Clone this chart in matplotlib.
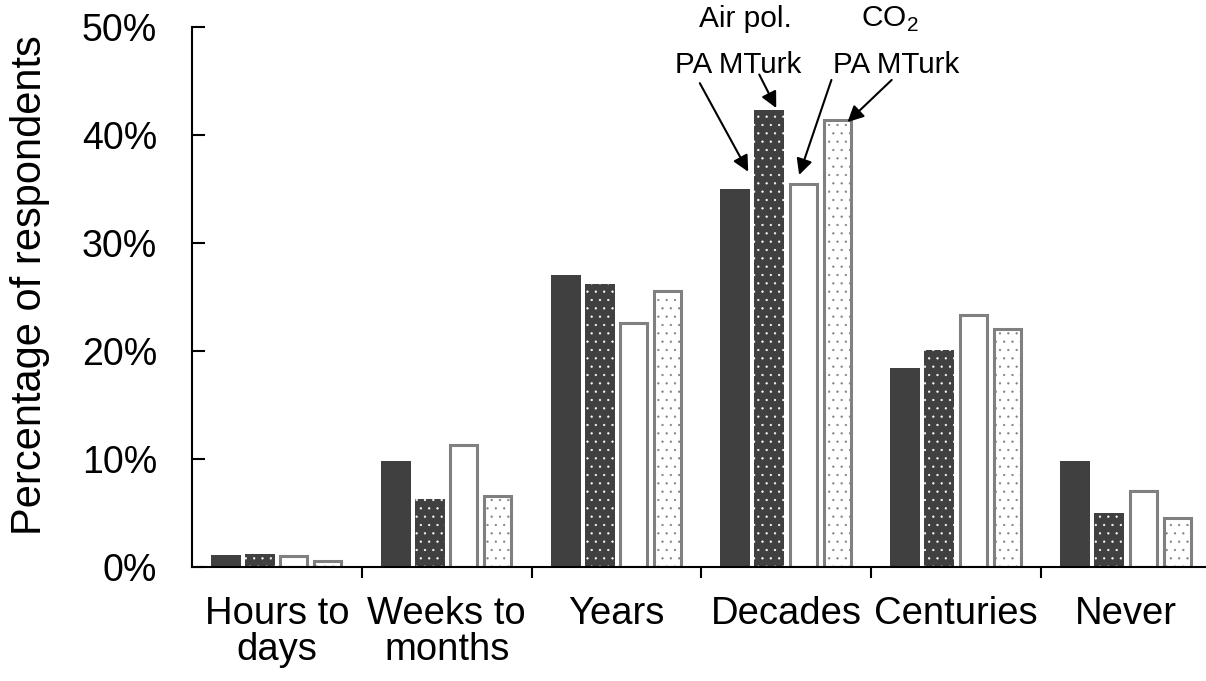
import numpy as np
import matplotlib
matplotlib.use("Agg")
import matplotlib.pyplot as plt

plt.rcParams['font.family'] = ['Liberation Sans', 'DejaVu Sans']
plt.rcParams['mathtext.fontset'] = 'custom'
plt.rcParams['mathtext.rm'] = 'Liberation Sans'
plt.rcParams['hatch.linewidth'] = 0.4

categories = ["Hours to\ndays", "Weeks to\nmonths", "Years", "Decades", "Centuries", "Never"]
airpol_pa = [1.1, 9.8, 27.0, 35.0, 18.4, 9.8]
airpol_mturk = [1.2, 6.3, 26.2, 42.3, 20.1, 5.0]
co2_pa = [1.0, 11.3, 22.6, 35.5, 23.3, 7.0]
co2_mturk = [0.6, 6.6, 25.6, 41.4, 22.0, 4.5]
yticks = [0, 10, 20, 30, 40, 50]

dark = '#404040'
grey = '#808080'

fig = plt.figure(figsize=(12.06, 6.81), dpi=100)
ax = fig.add_axes([192/1206, 1-567/681, 1019/1206, 540/681])

x = np.arange(len(categories))
step = 0.2
w_fill = 30/170.
w_line = 27/170.
offs = [-1.5*step, -0.5*step, 0.5*step, 1.5*step]

ax.bar(x + offs[0], airpol_pa, w_fill, color=dark, linewidth=0)
ax.bar(x + offs[1], airpol_mturk, w_fill, color=dark, edgecolor='white', hatch='..', linewidth=0)
ax.bar(x + offs[2], co2_pa, w_line, color='white', edgecolor=grey, linewidth=2.2)
ax.bar(x + offs[3], co2_mturk, w_line, color='white', edgecolor=grey, hatch='..', linewidth=2.2)

ax.set_xlim(-0.5, len(categories) - 0.5)
ax.set_ylim(0, 50)
ax.set_yticks(yticks)
ax.set_yticklabels(['%d%%' % v for v in yticks])
ax.tick_params(axis='y', direction='in', length=9, width=1.5, labelsize=27, pad=25)

ax.set_xticks(x)
ax.set_xticklabels(categories, fontsize=27.5, linespacing=1.0)
ax.tick_params(axis='x', which='major', length=0, pad=21)
ax.set_xticks(np.arange(0.5, len(categories) - 1, 1.0), minor=True)
ax.tick_params(axis='x', which='minor', direction='out', length=8, width=1.5)

for s in ['top', 'right']:
    ax.spines[s].set_visible(False)
for s in ['left', 'bottom']:
    ax.spines[s].set_linewidth(1.5)

fig.text(30/1206, 1-285/681, 'Percentage of respondents', rotation=90,
         ha='center', va='center', fontsize=30)

# annotations on the Decades group
d = 3
ax.text(d - 0.241, 50.7, 'Air pol.', ha='center', va='center', fontsize=21.5)
ax.text(d - 0.285, 46.5, 'PA MTurk', ha='center', va='center', fontsize=21.3)
ax.text(d + 0.61, 50.7, r'CO$_{\mathregular{2}}$', ha='center', va='center', fontsize=21.5)
ax.text(d + 0.644, 46.5, 'PA MTurk', ha='center', va='center', fontsize=21.3)

arrow = dict(arrowstyle='-|>', color='black', lw=1.5, mutation_scale=24, shrinkA=0, shrinkB=0)
ax.annotate('', xy=(d + offs[0] + 0.075, airpol_pa[d] + 1.6), xytext=(d - 0.51, 44.8), arrowprops=arrow)
ax.annotate('', xy=(d + offs[1] + 0.04, airpol_mturk[d] + 0.2), xytext=(d - 0.16, 45.6), arrowprops=arrow)
ax.annotate('', xy=(d + offs[2] - 0.025, co2_pa[d] + 0.8), xytext=(d + 0.265, 45.1), arrowprops=arrow)
ax.annotate('', xy=(d + offs[3] + 0.06, co2_mturk[d] - 0.2), xytext=(d + 0.62, 45.1), arrowprops=arrow)

fig.savefig('out.png', dpi=100)
